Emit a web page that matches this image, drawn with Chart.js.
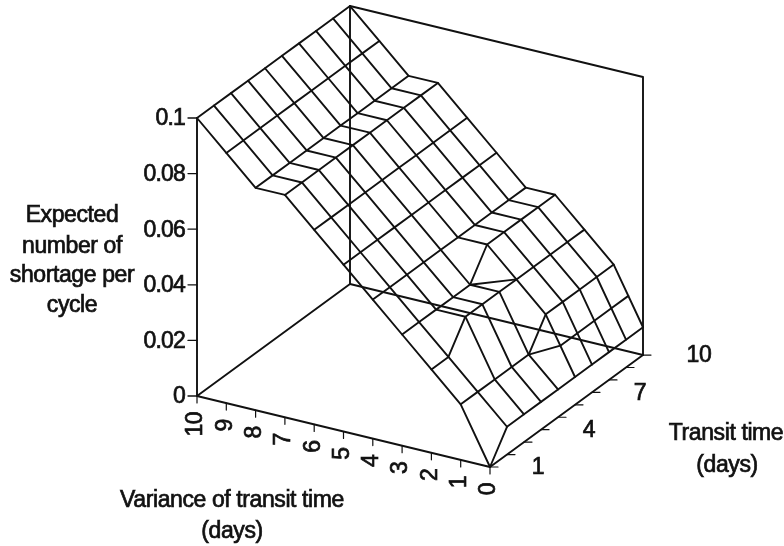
<!DOCTYPE html>
<html><head><meta charset="utf-8">
<style>html,body{margin:0;padding:0;background:#fff}canvas{display:block}</style>
<script src="https://cdn.jsdelivr.net/npm/chart.js@4"></script>
</head><body><canvas id="c" width="784" height="546"></canvas>
<script>
const varianceDays=[0,1,2,3,4,5,6,7,8,9,10];
const transitDays=[1,2,3,4,5,6,7,8,9,10];
const valueTicks=[0,0.02,0.04,0.06,0.08,0.1];
const valueTickLabels=['0','0.02','0.04','0.06','0.08','0.1'];
const transitTickLabels=[1,4,7,10];
// expected shortage, one list per variance, across transit days 1..10
const shortageV0=[0,.01,.01,.01,.01,.01,.01,.01,.01,.01];
const shortageV1=[.02,.02,.02,.02,.02,.03,.03,.03,.03,.03];
const shortageV2=[.03,.03,.04,.04,.04,.04,.04,.04,.04,.04];
const shortageV3=[.04,.04,.04,.04,.04,.05,.05,.05,.05,.05];
const shortageV4=[.05,.05,.05,.05,.05,.05,.05,.05,.05,.05];
const shortageV5=[.06,.06,.06,.06,.06,.06,.06,.06,.06,.06];
const shortageV6=[.07,.07,.07,.07,.07,.07,.07,.07,.07,.07];
const shortageV7=[.08,.08,.08,.08,.08,.08,.08,.08,.08,.08];
const shortageV8=[.08,.08,.08,.08,.08,.08,.08,.08,.08,.08];
const shortageV9=[.09,.09,.09,.09,.09,.09,.09,.09,.09,.09];
const shortageV10=[.1,.1,.1,.1,.1,.1,.1,.1,.1,.1];
const surface=[shortageV0,shortageV1,shortageV2,shortageV3,shortageV4,shortageV5,shortageV6,shortageV7,shortageV8,shortageV9,shortageV10];
// fold lines across non-planar cells: [variance, transit, value]
const foldA=[[3,5,.04],[2,6,.04]];
const foldB=[[1,5,.02],[.5,6,.02],[.5,7,.02],[.5,8,.02],[.5,9,.02],[.5,10,.02]];

// oblique projection of the 3-D box on to the flat x/y scales
const P={x0:490,y0:467,xv:-29.3,yv:-7.1,xt:17,yt:-12.44,yz:-2780};
const proj=(v,t,z)=>({x:P.x0+P.xv*v+P.xt*(t-1),y:P.y0+P.yv*v+P.yt*(t-1)+P.yz*z});
const off=(p,dx,dy)=>({x:p.x+dx,y:p.y+dy});
const INK='#111';
const line=(pts,w)=>({data:pts,showLine:true,pointRadius:0,borderColor:INK,borderWidth:w||1.9,tension:0,fill:false,borderJoinStyle:'round',borderCapStyle:'round'});
const datasets=[];
surface.forEach((row,i)=>datasets.push(line(row.map((z,j)=>proj(varianceDays[i],transitDays[j],z)))));
transitDays.forEach((t,j)=>datasets.push(line(surface.map((row,i)=>proj(varianceDays[i],t,row[j])))));
[foldA,foldB].forEach(f=>datasets.push(line(f.map(a=>proj(a[0],a[1],a[2])))));
const V=10,T=10,Z=.1;
[[[V,1,Z],[V,1,0],[0,1,0],[0,T,0],[0,T,Z],[V,T,Z],[V,T,0],[V,1,0]],[[V,T,0],[0,T,0]]]
  .forEach(f=>datasets.push(line(f.map(a=>proj(a[0],a[1],a[2])))));
valueTicks.forEach(z=>{const p=proj(V,1,z);datasets.push(line([p,off(p,-9,0)],1.3));});
varianceDays.forEach(v=>{const p=proj(v,1,0);datasets.push(line([p,off(p,0,7)],1.2));});
transitDays.forEach(t=>{const p=proj(0,t,0);datasets.push(line([p,off(p,8,0)],1.2));});

const FONT='"Liberation Sans",Arial,sans-serif';
const textPlugin={id:'labels',afterDatasetsDraw(ch){
  const c=ch.ctx,X=ch.scales.x,Y=ch.scales.y;
  const put=(s,x,y,size,rot,align,ls)=>{c.save();
    c.translate(X.getPixelForValue(x),Y.getPixelForValue(y));
    if(rot)c.rotate(rot);
    c.font=size+'px '+FONT;c.textAlign=align||'center';c.textBaseline='middle';
    c.fillStyle=INK;c.strokeStyle=INK;c.lineWidth=.7;c.letterSpacing=(ls===undefined?-0.4:ls)+'px';
    c.fillText(s,0,0);c.strokeText(s,0,0);c.restore();};
  valueTicks.forEach((z,i)=>{const p=proj(V,1,z);put(valueTickLabels[i],p.x-12,p.y+1,23,0,'right',-.8);});
  varianceDays.forEach(v=>{const p=proj(v,1,0);put(String(v),p.x-1,p.y+16,23,-Math.PI/2,'right',-.5);});
  transitTickLabels.forEach(t=>{const p=proj(0,t,0);put(String(t),p.x+(t>9?56:48),p.y+1,23);});
  [['Expected',72,216],['number of',72,247],['shortage per',72,276],['cycle',72,306],
   ['Variance of transit time',232,501],['(days)',232,532],['Transit time',726,434],['(days)',727,466]]
   .forEach(a=>put(a[0],a[1],a[2],23));
}};
new Chart(document.getElementById('c'),{type:'scatter',data:{datasets},plugins:[textPlugin],options:{
  responsive:false,animation:false,devicePixelRatio:1,layout:{padding:0},
  plugins:{legend:{display:false},tooltip:{enabled:false},title:{display:false}},
  scales:{x:{type:'linear',min:0,max:784,display:false},y:{type:'linear',min:0,max:546,reverse:true,display:false}}
}});
</script></body></html>
